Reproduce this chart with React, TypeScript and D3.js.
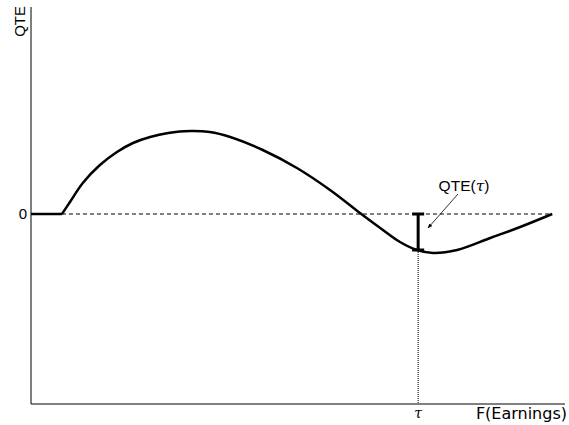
import React from "react";
import * as d3 from "d3";

// F(Earnings) quantiles and QTE values
const fValues = [0, 0.058, 0.073, 0.097, 0.129, 0.161, 0.191, 0.223, 0.257, 0.298, 0.335, 0.373, 0.434, 0.498, 0.56, 0.616, 0.654, 0.691, 0.723, 0.753, 0.798, 0.86, 0.916, 0.976];
const qteValues = [0, 0, 0.12, 0.31, 0.49, 0.62, 0.71, 0.77, 0.81, 0.83, 0.82, 0.77, 0.64, 0.46, 0.24, 0.01, -0.14, -0.28, -0.36, -0.39, -0.36, -0.24, -0.13, 0];
const tau = 0.725;
const qteAtTau = -0.36;
const zeroStart = 0.058;
const zeroEnd = 0.976;

const width = 569;
const height = 425;

const App = () => {
  const x = d3.scaleLinear().domain([0, 1]).range([31, 565]);
  const y = d3.scaleLinear().domain([-1.9, 2.07]).range([404, 7]);

  const points: [number, number][] = fValues.map((f, i) => [f, qteValues[i]]);
  // flat part up to the kink, then a smooth curve
  const flat = points.slice(0, 2);
  const smooth = points.slice(1);
  const straight = d3
    .line<[number, number]>()
    .x((d) => x(d[0]))
    .y((d) => y(d[1]));
  const curve = d3
    .line<[number, number]>()
    .x((d) => x(d[0]))
    .y((d) => y(d[1]))
    .curve(d3.curveCatmullRom.alpha(0.5));

  const tx = x(tau);
  const font = "'Liberation Sans', Arial, sans-serif";

  return (
    <svg
      width={width}
      height={height}
      style={{ position: "absolute", left: 0, top: 0, background: "#fff" }}
    >
      <defs>
        <marker id="arr" viewBox="0 0 10 10" refX="9" refY="5" markerWidth="6" markerHeight="6" orient="auto">
          <path d="M0,1 L10,5 L0,9 z" fill="#000" />
        </marker>
      </defs>

      {/* axes */}
      <line x1={x(0)} x2={x(0)} y1={y(2.07)} y2={y(-1.9)} stroke="#000" strokeWidth={1} />
      <line x1={x(0)} x2={x(1)} y1={y(-1.9)} y2={y(-1.9)} stroke="#000" strokeWidth={1} />

      {/* zero reference */}
      <line x1={x(zeroStart)} x2={x(zeroEnd)} y1={y(0)} y2={y(0)} stroke="#000" strokeWidth={1} strokeDasharray="4,3" />

      {/* tau dotted line */}
      <line x1={tx} x2={tx} y1={y(qteAtTau)} y2={y(-1.9)} stroke="#000" strokeWidth={1} strokeDasharray="1,1" />

      <path d={straight(flat) || ""} fill="none" stroke="#000" strokeWidth={2.5} />
      <path d={curve(smooth) || ""} fill="none" stroke="#000" strokeWidth={2.5} strokeLinejoin="round" />

      {/* QTE(tau) bracket */}
      <g stroke="#000" strokeWidth={3}>
        <line x1={tx} x2={tx} y1={y(0)} y2={y(qteAtTau)} />
        <line x1={tx - 6} x2={tx + 6} y1={y(0)} y2={y(0)} />
        <line x1={tx - 6} x2={tx + 6} y1={y(qteAtTau)} y2={y(qteAtTau)} />
      </g>

      <line x1={458} y1={194} x2={428} y2={228} stroke="#000" strokeWidth={0.8} markerEnd="url(#arr)" />

      <text x={464} y={191} textAnchor="middle" fontFamily={font} fontSize={15.5}>
        QTE(<tspan fontFamily="'DejaVu Serif', serif" fontStyle="italic">τ</tspan>)
      </text>

      <text x={27} y={y(0) + 5} textAnchor="end" fontFamily={font} fontSize={15}>0</text>
      <text transform="translate(25,6) rotate(-90)" textAnchor="end" fontFamily={font} fontSize={15}>QTE</text>
      <text x={tx} y={418} textAnchor="middle" fontFamily="'DejaVu Serif', serif" fontStyle="italic" fontSize={14}>τ</text>
      <text x={567} y={419} textAnchor="end" fontFamily="'DejaVu Sans', sans-serif" fontSize={16}>F(Earnings)</text>
    </svg>
  );
};

export default App;
